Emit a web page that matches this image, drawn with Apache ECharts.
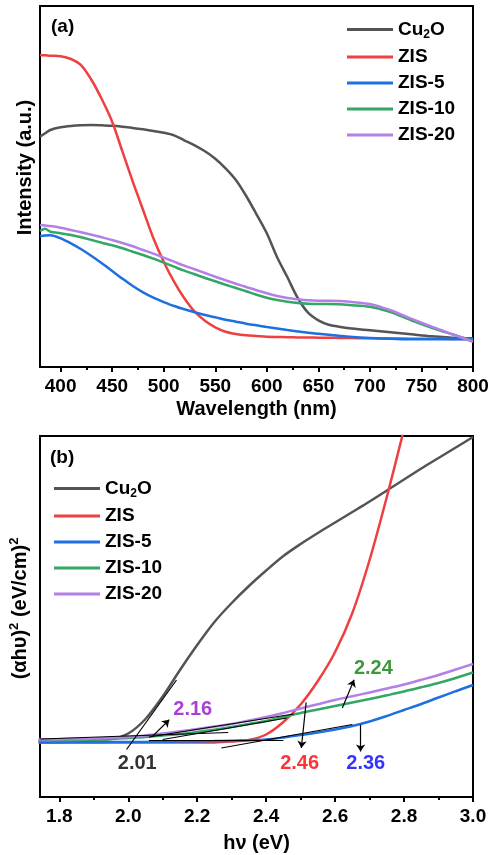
<!DOCTYPE html>
<html><head><meta charset="utf-8">
<script src="https://cdn.jsdelivr.net/npm/echarts@6/dist/echarts.min.js"></script>
<style>html,body{margin:0;padding:0;background:#fff}#c{width:502px;height:855px}</style>
</head><body><div id="c"></div>
<script>
const seriesNames = ['Cu2O', 'ZIS', 'ZIS-5', 'ZIS-10', 'ZIS-20'];

// (a) UV-vis absorption spectra (a.u.)
const wavelength = [380,385,390,400,410,420,430,440,450,460,470,480,490,500,510,520,530,540,550,560,570,580,590,600,610,620,630,640,650,660,670,680,700,720,740,760,780,800];
const absCu2O = [230.3,233.7,237,239.7,241,241.7,242,241.7,241.3,240.3,239,237.7,236,234.3,231.7,226.7,221.7,215.7,208.3,198.7,187,171,152.7,133.7,109.7,89.7,69,54.3,46.7,42.3,40.3,38.7,36.7,34.7,32.7,30.7,29.3,28.7];
const absZIS = [312,311.7,311.3,310.7,308,301.7,287,267.7,245.3,215.3,185.3,157,128.7,105.3,85.3,68.7,55.3,46.3,39.7,35.3,33,31.7,31,30.3,30,29.8,29.6,29.5,29.3,29.2,29.1,29,28.7,28.5,28.3,28.2,28.1,28];
const absZIS5 = [131,131.5,131.7,128.7,123.7,117.7,111,103.7,96,88.3,81,74.7,69.3,65,61,57.7,54.7,52,49.7,47.3,45.3,43.3,41.7,40,38.5,37,35.6,34.3,33.3,32.3,31.3,30.3,29,28.3,27.7,27.7,27.7,27.7];
const absZIS10 = [136,138.3,135.3,133.7,132,129.7,127,124.3,121.7,118.7,115.3,112,108.3,104.3,100.3,96.3,92.7,89,85.7,82.3,79,75.7,72.3,69.3,67,65.3,64,63.3,63,63,62.7,62,60.3,55,46.7,39.3,32.7,26.3];
const absZIS20 = [142,141.5,141,139.3,137,134.7,132.3,129.7,127,124,120.7,117,113.3,109.3,105.3,101.3,97.7,94,90.3,86.7,83.3,80,76.7,73.7,71,69,67.7,66.7,66.3,66.3,66,65.3,63,56.7,48.3,40.3,32.7,25.3];
const wlTicks = [400,450,500,550,600,650,700,750,800];
const wlMinorTicks = [425,475,525,575,625,675,725,775];

// (b) Tauc plot (αhυ)^2
const energy = [1.74,1.8,1.85,1.9,1.95,2.0,2.05,2.1,2.15,2.2,2.25,2.3,2.35,2.4,2.45,2.5,2.55,2.6,2.65,2.7,2.75,2.8,2.85,2.9,2.95,3.0];
const taucCu2O = [56.6,56.8,57,57.3,58,63.5,78,100.5,127,152,175,194,211,226.5,241,253,264,274.5,285,295.5,306.5,317.5,328.5,339,349.5,360];
const taucZIS = [54.5,54.5,54.5,54.5,54.5,54.5,54.5,54.5,54.5,54.5,54.6,55.5,57,62.5,75,92.5,116,145,184,237,300,368,null,null,null,null];
const taucZIS5 = [54.5,54.6,54.7,54.8,54.9,55,55.1,55.2,55.4,55.6,55.9,56.3,56.8,57.5,59.5,62,64.5,67.5,71,75.5,81,87,93,99.5,105.8,112];
const taucZIS10 = [56.5,56.7,57,57.4,58,59,60,61.5,63,65,67.3,70,73,76,80,84,87.5,91,94.5,98,101.7,105.5,109.7,114,119,124.5];
const taucZIS20 = [57.5,57.8,58.1,58.5,59.2,60,61.5,63.5,65.7,68,70.5,73,76.5,80,84,88.5,92.8,97,100.8,104.5,108.5,112.5,117.2,122,127.5,133];
const eTicks = [1.8,2.0,2.2,2.4,2.6,2.8,3.0];
const eMinorTicks = [1.9,2.1,2.3,2.5,2.7,2.9];

// linear fits (eV, value) and band-gap annotations
const tangentLines = [
  [[1.995,47.5],[2.14,117]],
  [[1.745,58],[2.29,64.5]],
  [[2.06,60],[2.48,83]],
  [[2.1,57.5],[2.46,79]],
  [[2.06,56.5],[2.45,56.5]],
  [[2.27,49],[2.65,72.5]]
];
const arrowLines = [
  [[2.07,60.6],[2.119,77.3]],
  [[2.621,89],[2.655,117.3]],
  [[2.516,94.6],[2.502,49]],
  [[2.674,72.3],[2.674,45.6]]
];
const gapLabels = ['2.01','2.16','2.24','2.46','2.36'];
const gapLabelPos = [[2.026,34],[2.187,87.3],[2.711,129],[2.497,34],[2.689,34]];

const colors = ['#545454','#EE4040','#1E6FE0','#34A665','#B47FE6'];
const gapColors = ['#000000','#9410CC','#0E800E','#FF0000','#0000FF'];
const FONT = '"Liberation Sans", Arial, Helvetica, sans-serif';

function pairs(xs, ys) { return xs.map((x, i) => [x, ys[i]]); }

const absData = [absCu2O, absZIS, absZIS5, absZIS10, absZIS20];
const taucData = [taucCu2O, taucZIS, taucZIS5, taucZIS10, taucZIS20];

const richLegend = {
  n: { fontSize: 19, fontWeight: 'bold', fontFamily: FONT, color: '#000', lineHeight: 22 },
  s: { fontSize: 12, fontWeight: 'bold', fontFamily: FONT, color: '#000', lineHeight: 22, verticalAlign: 'bottom', padding: [8, 0, 0, 0] }
};
function legendFmt(name) {
  if (name === 'Cu2O') return '{n|Cu}{s|2}{n|O}';
  return '{n|' + name + '}';
}

const axisLineStyle = { color: '#000', width: 2 };
const tickLabelStyle = { fontSize: 19, fontWeight: 'bold', fontFamily: FONT, color: '#000' };

const chart = echarts.init(document.getElementById('c'), null, { renderer: 'canvas' });

const series = [];
seriesNames.forEach((name, i) => {
  series.push({
    name: name, type: 'line', xAxisIndex: 0, yAxisIndex: 0,
    data: pairs(wavelength, absData[i]), showSymbol: false, symbol: 'none',
    smooth: 0.3, lineStyle: { width: 2.5, color: colors[i] }, itemStyle: { color: colors[i] }, z: 3
  });
});
seriesNames.forEach((name, i) => {
  series.push({
    name: name, type: 'line', xAxisIndex: 2, yAxisIndex: 1,
    data: pairs(energy, taucData[i]), showSymbol: false, symbol: 'none',
    smooth: 0.3, connectNulls: false, lineStyle: { width: 2.5, color: colors[i] }, itemStyle: { color: colors[i] }, z: 3
  });
});
tangentLines.forEach((seg, i) => {
  series.push({
    name: 'fit' + i, type: 'line', xAxisIndex: 2, yAxisIndex: 1,
    data: seg, showSymbol: false, symbol: 'none', silent: true,
    lineStyle: { width: 1.2, color: '#000' }, z: 4
  });
});
series.push({
  name: 'arrows', type: 'lines', coordinateSystem: 'cartesian2d', xAxisIndex: 2, yAxisIndex: 1,
  symbol: ['none', 'arrow'], symbolSize: 7, silent: true,
  lineStyle: { color: '#000', width: 1.2, opacity: 1 },
  data: arrowLines.map(c => ({ coords: c })), z: 5
});
series.push({
  name: 'gaps', type: 'scatter', xAxisIndex: 2, yAxisIndex: 1, symbolSize: 1, silent: true,
  itemStyle: { color: 'rgba(0,0,0,0)' },
  label: { show: true, position: 'inside', fontSize: 20, fontWeight: 'bold', fontFamily: FONT },
  data: gapLabelPos.map((p, i) => ({ value: p, label: { formatter: gapLabels[i], color: gapColors[i] } })), z: 6
});

chart.setOption({
  animation: false,
  backgroundColor: '#fff',
  title: [
    { text: '(a)', left: 51, top: 17, padding: 0, textStyle: { fontSize: 19, fontWeight: 'bold', fontFamily: FONT, color: '#000' } },
    { text: '(b)', left: 50, top: 448, padding: 0, textStyle: { fontSize: 19, fontWeight: 'bold', fontFamily: FONT, color: '#000' } }
  ],
  legend: [
    { data: seriesNames, orient: 'vertical', left: 347, top: 20, padding: 0, itemGap: 7, itemWidth: 46, itemHeight: 3, icon: 'rect',
      textStyle: { rich: richLegend }, formatter: legendFmt, selectedMode: false },
    { data: seriesNames, orient: 'vertical', left: 54, top: 479, padding: 0, itemGap: 7, itemWidth: 46, itemHeight: 3, icon: 'rect',
      textStyle: { rich: richLegend }, formatter: legendFmt, selectedMode: false }
  ],
  grid: [
    { left: 40, top: 6, width: 433, height: 361, show: true, borderColor: '#000', borderWidth: 2, backgroundColor: 'transparent' },
    { left: 40, top: 436, width: 433, height: 361, show: true, borderColor: '#000', borderWidth: 2, backgroundColor: 'transparent' }
  ],
  xAxis: [
    { type: 'value', gridIndex: 0, position: 'bottom', min: 380, max: 800,
      axisLine: { show: true, lineStyle: axisLineStyle },
      axisTick: { show: true, inside: false, length: 5, lineStyle: axisLineStyle, customValues: wlTicks },
      axisLabel: Object.assign({ margin: 10, customValues: wlTicks }, tickLabelStyle),
      splitLine: { show: false },
      name: 'Wavelength (nm)', nameLocation: 'middle', nameGap: 32,
      nameTextStyle: { fontSize: 20, fontWeight: 'bold', fontFamily: FONT, color: '#000' } },
    { type: 'value', gridIndex: 0, position: 'bottom', min: 380, max: 800,
      axisLine: { show: false },
      axisTick: { show: true, inside: false, length: 3, lineStyle: axisLineStyle, customValues: wlMinorTicks },
      axisLabel: { show: false }, splitLine: { show: false } },
    { type: 'value', gridIndex: 1, position: 'bottom', min: 1.744, max: 3.0,
      axisLine: { show: true, lineStyle: axisLineStyle },
      axisTick: { show: true, inside: false, length: 5, lineStyle: axisLineStyle, customValues: eTicks },
      axisLabel: Object.assign({ margin: 10, customValues: eTicks, formatter: v => v.toFixed(1) }, tickLabelStyle),
      splitLine: { show: false },
      name: 'hν (eV)', nameLocation: 'middle', nameGap: 36,
      nameTextStyle: { fontSize: 20, fontWeight: 'bold', fontFamily: FONT, color: '#000' } },
    { type: 'value', gridIndex: 1, position: 'bottom', min: 1.744, max: 3.0,
      axisLine: { show: false },
      axisTick: { show: true, inside: false, length: 3, lineStyle: axisLineStyle, customValues: eMinorTicks },
      axisLabel: { show: false }, splitLine: { show: false } }
  ],
  yAxis: [
    { type: 'value', gridIndex: 0, min: 0, max: 361,
      axisLine: { show: true, lineStyle: axisLineStyle }, axisTick: { show: false }, axisLabel: { show: false }, splitLine: { show: false },
      name: 'Intensity (a.u.)', nameLocation: 'middle', nameGap: 5,
      nameTextStyle: { fontSize: 20, fontWeight: 'bold', fontFamily: FONT, color: '#000', padding: [0, 0, 0, 38] } },
    { type: 'value', gridIndex: 1, min: 0, max: 361,
      axisLine: { show: true, lineStyle: axisLineStyle }, axisTick: { show: false }, axisLabel: { show: false }, splitLine: { show: false },
      name: '{n|(αhυ)}{p|2}{n| (eV/cm)}{p|2}', nameLocation: 'middle', nameGap: 8,
      nameTextStyle: { fontSize: 20, fontWeight: 'bold', fontFamily: FONT, color: '#000', padding: [0, 0, 0, 16],
        rich: {
          n: { fontSize: 20, fontWeight: 'bold', fontFamily: FONT, color: '#000', lineHeight: 24 },
          p: { fontSize: 13, fontWeight: 'bold', fontFamily: FONT, color: '#000', lineHeight: 24, verticalAlign: 'top', padding: [0, 0, 10, 0] }
        } } }
  ],
  series: series
});
</script>
</body></html>
